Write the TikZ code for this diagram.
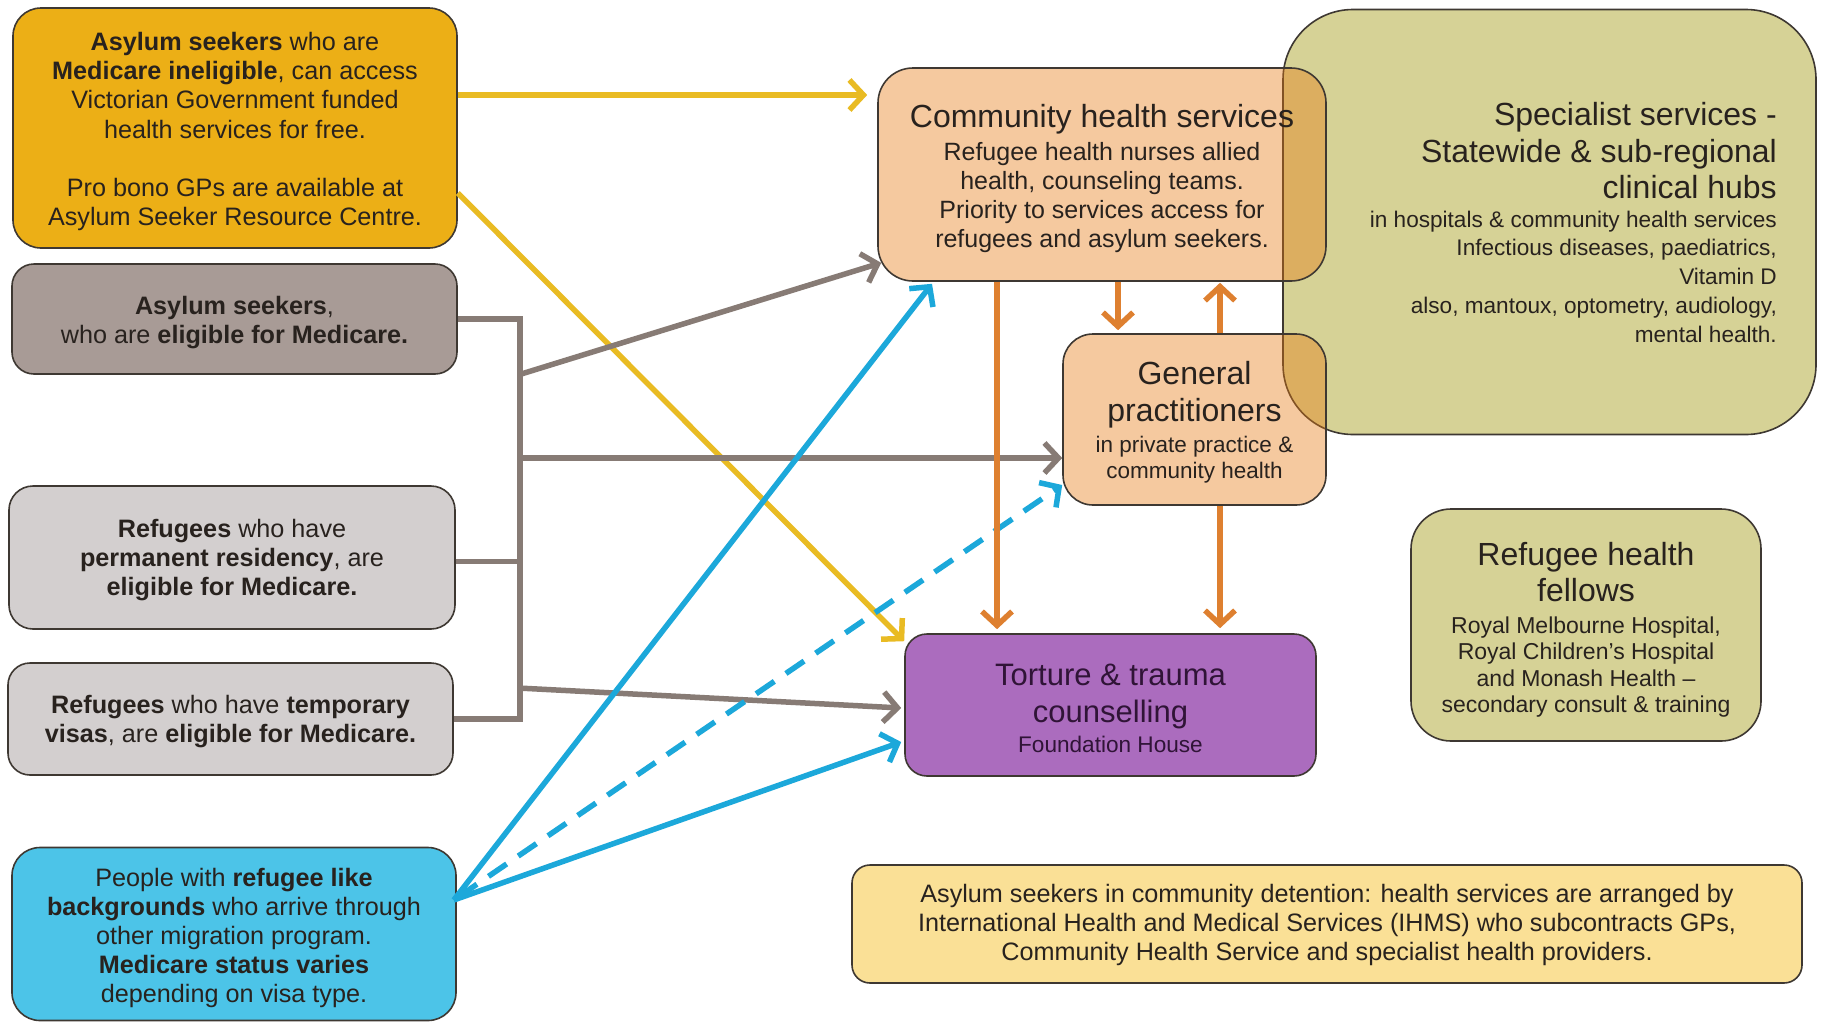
\documentclass[tikz,border=0pt]{standalone}
\usepackage{fontspec}
\setmainfont{Liberation Sans}
\usetikzlibrary{arrows.meta}
\setlength{\lineskiplimit}{-100pt}
\definecolor{boxline}{RGB}{62,56,50}
\definecolor{txt}{RGB}{40,34,30}
\definecolor{yelfill}{RGB}{236,175,22}
\definecolor{agfill}{RGB}{168,155,150}
\definecolor{ltgray}{RGB}{211,207,207}
\definecolor{bluefill}{RGB}{76,196,232}
\definecolor{chsbase}{RGB}{230,122,17}
\definecolor{specfill}{RGB}{214,210,150}
\definecolor{tortfill}{RGB}{171,108,190}
\definecolor{torttxt}{RGB}{48,20,55}
\definecolor{detfill}{RGB}{250,224,150}
\definecolor{yelline}{RGB}{233,187,35}
\definecolor{grayline}{RGB}{135,123,117}
\definecolor{blueline}{RGB}{28,168,218}
\definecolor{orangeline}{RGB}{222,128,48}
\newcommand{\boxtitle}[2]{{\fontsize{#1}{#1}\selectfont #2}}
\newcommand{\toppad}[1]{\rule{0pt}{#1}}
\tikzset{
  box/.style={draw=boxline, line width=1.6pt, inner sep=0pt, align=center, text=txt, rectangle},
  lfont/.style={font=\fontsize{25.2}{29.3}\selectfont},
  conn/.style={line width=5.5pt, -{Straight Barb[length=14pt,width=30pt]}},
  yconn/.style={conn, draw=yelline},
  gconn/.style={conn, draw=grayline},
  bconn/.style={conn, draw=blueline},
  oconn/.style={conn, draw=orangeline},
  gline/.style={line width=5.5pt, draw=grayline}
}
\begin{document}
\begin{tikzpicture}[x=1pt,y=-1pt]
\fill[white] (0,0) rectangle (1825,1023);
\useasboundingbox (0,0) rectangle (1825,1023);

% left boxes
\node[box, lfont, fill=yelfill, rounded corners=28pt, minimum width=444pt, minimum height=240pt] (yel) at (235,128)
 {\toppad{25.5pt}\textbf{Asylum seekers} who are\\
  \textbf{Medicare ineligible}, can access\\
  Victorian Government funded\\
  health services for free.\\[29pt]
  Pro bono GPs are available at\\
  Asylum Seeker Resource Centre.};
\node[box, lfont, fill=agfill, rounded corners=22pt, minimum width=445pt, minimum height=110pt] (ag) at (234.5,319)
 {\toppad{25.5pt}\textbf{Asylum seekers},\\ who are \textbf{eligible for Medicare.}};
\node[box, lfont, fill=ltgray, rounded corners=24pt, minimum width=446pt, minimum height=143pt] (perm) at (232,557.5)
 {\toppad{23pt}\textbf{Refugees} who have\\ \textbf{permanent residency}, are\\ \textbf{eligible for Medicare.}};
\node[box, lfont, fill=ltgray, rounded corners=22pt, minimum width=445pt, minimum height=112pt] (temp) at (230.5,719)
 {\toppad{23pt}\textbf{Refugees} who have \textbf{temporary}\\ \textbf{visas}, are \textbf{eligible for Medicare.}};
\node[box, font=\fontsize{25.2}{29}\selectfont, fill=bluefill, rounded corners=28pt, minimum width=444pt, minimum height=173pt] (blue) at (234,934)
 {\toppad{25.5pt}People with \textbf{refugee like}\\ \textbf{backgrounds} who arrive through\\ other migration program.\\ \textbf{Medicare status varies}\\ depending on visa type.};

% specialist (under the community boxes)
\node[box, fill=specfill, rounded corners=70pt, minimum width=533pt, minimum height=425pt] (spec) at (1549.5,222) {};
\node[inner sep=0pt, anchor=north east, align=right, text=txt, font=\fontsize{22.6}{28.8}\selectfont] (spectext) at (1777,102)
 {\boxtitle{32}{Specialist services -}\\[7.9pt]
  \boxtitle{32}{Statewide \& sub-regional}\\[7.9pt]
  \boxtitle{32}{clinical hubs}\\[-0.5pt]
  in hospitals \& community health services\\
  Infectious diseases, paediatrics,\\
  Vitamin D\\
  also, mantoux, optometry, audiology,\\
  mental health.};

% community health services and GPs
\node[box, fill=chsbase, fill opacity=0.4, text opacity=1, rounded corners=35pt, minimum width=448pt, minimum height=213pt, font=\fontsize{25}{29}\selectfont] (chs) at (1102,174.5)
 {\toppad{31pt}\boxtitle{32}{Community health services}\\[4pt]
  Refugee health nurses allied\\
  health, counseling teams.\\
  Priority to services access for\\
  refugees and asylum seekers.};
\node[box, fill=chsbase, fill opacity=0.4, text opacity=1, rounded corners=30pt, minimum width=263pt, minimum height=171pt, font=\fontsize{22.5}{25.6}\selectfont] (gp) at (1194.5,419.5)
 {\toppad{28pt}\boxtitle{32}{General}\\[11.6pt]
  \boxtitle{32}{practitioners}\\[5.8pt]
  in private practice \&\\
  community health};

% torture
\node[box, fill=tortfill, text=torttxt, rounded corners=22pt, minimum width=411pt, minimum height=142pt, font=\fontsize{22.6}{25}\selectfont] (tort) at (1110.5,705)
 {\toppad{28.6pt}\boxtitle{31}{Torture \& trauma}\\[12.2pt]
  \boxtitle{31}{counselling}\\[5.3pt]
  Foundation House};

% fellows
\node[box, fill=specfill, rounded corners=40pt, minimum width=350pt, minimum height=232pt, font=\fontsize{23}{26.4}\selectfont] (fel) at (1586,625)
 {\toppad{33pt}\boxtitle{32}{Refugee health}\\[9.6pt]
  \boxtitle{32}{fellows}\\[5pt]
  Royal Melbourne Hospital,\\
  Royal Children’s Hospital\\
  and Monash Health –\\
  secondary consult \& training};

% detention
\node[box, fill=detfill, rounded corners=18pt, minimum width=950pt, minimum height=118pt, font=\fontsize{25.2}{29}\selectfont] (det) at (1327,924)
 {\toppad{21pt}Asylum seekers in community detention: health services are arranged by\\
  International Health and Medical Services (IHMS) who subcontracts GPs,\\
  Community Health Service and specialist health providers.};

% yellow connectors
\draw[yconn] ([yshift=33pt]yel.east) -- ([xshift=-10pt,yshift=79.5pt]chs.west);
\draw[yconn] ([yshift=-65pt]yel.east) -- ([yshift=-8pt]tort.north west);

% gray bracket
\draw[gline] (ag.east) -- ++(62,0) |- (temp.east);
\draw[gline] ([yshift=-4pt]perm.east) -- ++(62,0);
\coordinate (b1) at (518,375);
\coordinate (b2) at (518,458);
\coordinate (b3) at (518,688);
\draw[gconn] (b1) -- ([xshift=4pt,yshift=19pt]chs.south west);
\draw[gconn] (b2) -- ([yshift=-38.5pt]gp.west);
\draw[gconn] (b3) -- ([xshift=-3pt,yshift=-3pt]tort.west);

% blue connectors
\coordinate (bo) at ([xshift=-3pt,yshift=34pt]blue.east);
\draw[bconn] (bo) -- ([xshift=-170pt,yshift=-2pt]chs.south);
\draw[bconn, dash pattern=on 22pt off 14pt, dash phase=30pt] (bo) -- ([yshift=-65.5pt]gp.west);
\draw[bconn] (bo) -- ([xshift=-3pt,yshift=-37pt]tort.west);

% orange connectors
\draw[oconn, shorten >=4pt] ([xshift=-105pt]chs.south) -- ([xshift=-113.5pt]tort.north);
\draw[oconn, shorten >=3pt] ([xshift=16pt]chs.south) -- ([xshift=-76.5pt]gp.north);
\draw[oconn, shorten >=1pt] ([xshift=25.5pt]gp.north) -- ([xshift=118pt]chs.south);
\draw[oconn, shorten >=5pt] ([xshift=25.5pt]gp.south) -- ([xshift=109.5pt]tort.north);
\end{tikzpicture}
\end{document}
